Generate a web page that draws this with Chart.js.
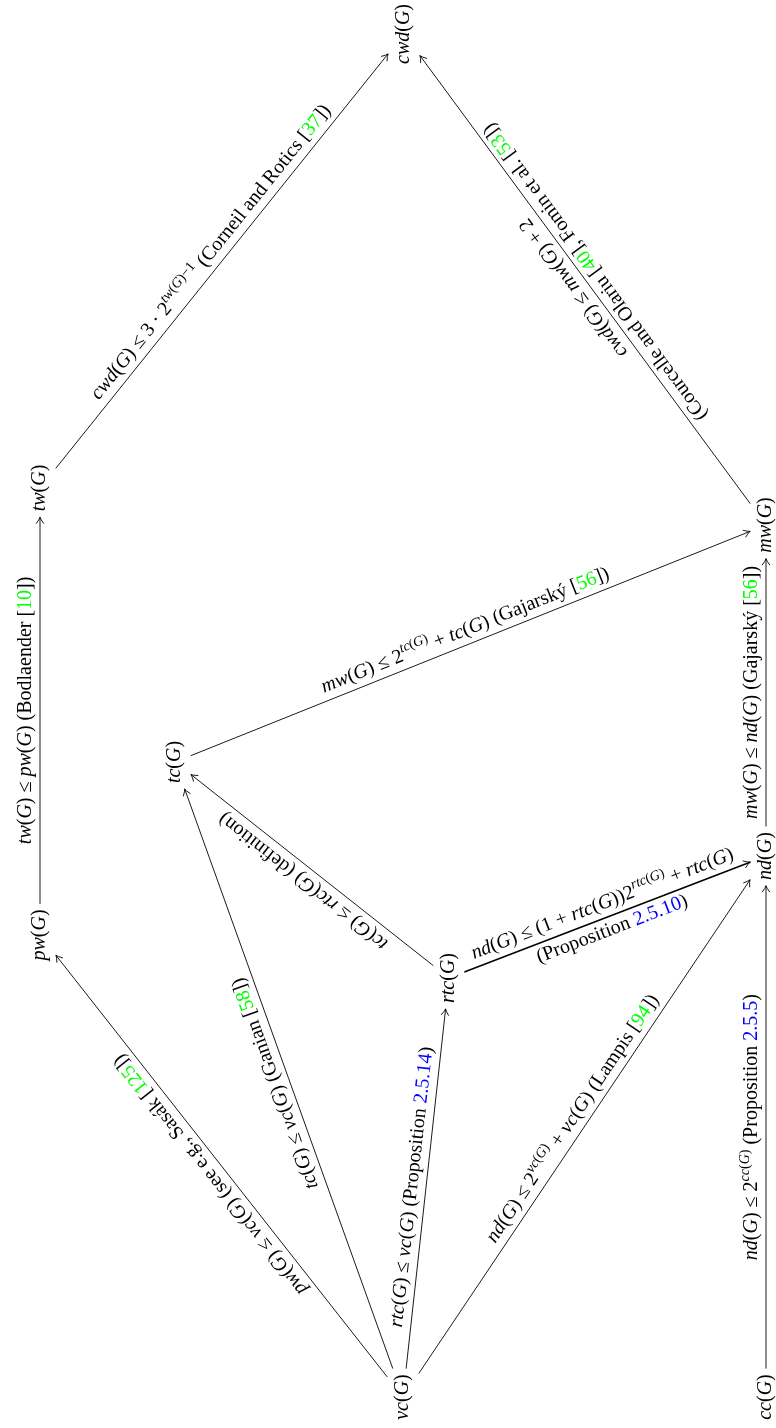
<!DOCTYPE html>
<html>
<head>
<meta charset="utf-8">
<script src="https://cdn.jsdelivr.net/npm/chart.js@4.4.1/dist/chart.umd.min.js"></script>
<style>
  html, body { margin: 0; padding: 0; background: #fff; }
</style>
</head>
<body>
<canvas id="myChart" width="776" height="1428"></canvas>
<script>
// Nodes of the diagram (positions in page units, y grows downward)
const nodeNames = ['cwd', 'tw', 'pw', 'tc', 'mw', 'nd', 'rtc', 'vc', 'cc'];
const nodeX = [404, 40, 40, 175, 766, 766, 449, 403, 766];
const nodeY = [34, 488, 935, 762, 525, 856, 978, 1397, 1397];

// Edges (from -> to) and their labels
// $..$ = math, ^{..} = superscript, \cite{..} = citation, \ref{..} = reference
const edgeFrom = ['pw', 'tw', 'mw', 'tc', 'nd', 'rtc', 'rtc', 'vc', 'vc', 'vc', 'vc', 'cc'];
const edgeTo = ['tw', 'cwd', 'cwd', 'mw', 'mw', 'tc', 'nd', 'pw', 'tc', 'rtc', 'nd', 'nd'];
const edgeAbove = [
  '$tw(G) \u2264 pw(G)$ (Bodlaender \\cite{10})',
  '$cwd(G) \u2264 3 \u00b7 2^{tw(G)\u22121}$ (Corneil and Rotics \\cite{37})',
  '$cwd(G) \u2264 mw(G) + 2$',
  '$mw(G) \u2264 2^{tc(G)} + tc(G)$ (Gajarsk\u00fd \\cite{56})',
  '$mw(G) \u2264 nd(G)$ (Gajarsk\u00fd \\cite{56})',
  '$tc(G) \u2264 rtc(G)$ (definition)',
  '$nd(G) \u2264 (1 + rtc(G))2^{rtc(G)} + rtc(G)$',
  '$pw(G) \u2264 vc(G)$ (see e.g., Sas\u00e1k \\cite{125})',
  '$tc(G) \u2264 vc(G)$ (Ganian \\cite{58})',
  '$rtc(G) \u2264 vc(G)$ (Proposition \\ref{2.5.14})',
  '$nd(G) \u2264 2^{vc(G)} + vc(G)$ (Lampis \\cite{94})',
  '$nd(G) \u2264 2^{cc(G)}$ (Proposition \\ref{2.5.5})'
];
const edgeBelow = ['', '', '(Courcelle and Olariu \\cite{40}, Fomin et al. \\cite{53})', '', '', '',
  '(Proposition \\ref{2.5.10})', '', '', '', '', ''];
const edgeBold = [false, false, false, false, false, false, true, false, false, false, false, false];

const FACE = '"Liberation Serif", "Times New Roman", serif';
const SIZE = 20;
const CITE_COLOR = '#00ff00';
const REF_COLOR = '#0000ff';

// Turns a label string into styled runs
const parseLabel = (s) => {
  const runs = [];
  const stack = [];
  let math = false;
  const push = (ch, opts) => {
    const last = runs[runs.length - 1];
    if (last && last.italic === opts.italic && last.sup === opts.sup && last.color === opts.color) {
      last.text += ch;
    } else {
      runs.push({ text: ch, ...opts });
    }
  };
  const style = () => ({
    sup: stack.includes('sup'),
    color: stack.includes('cite') ? CITE_COLOR : (stack.includes('ref') ? REF_COLOR : '#000')
  });
  let i = 0;
  while (i < s.length) {
    const ch = s[i];
    if (ch === '$') { math = !math; i++; continue; }
    if (ch === '^' && s[i + 1] === '{') { stack.push('sup'); i += 2; continue; }
    if (s.startsWith('\\cite{', i)) {
      push('[', { italic: false, sup: false, color: '#000' });
      stack.push('cite'); i += 6; continue;
    }
    if (s.startsWith('\\ref{', i)) { stack.push('ref'); i += 5; continue; }
    if (ch === '}') {
      const top = stack.pop();
      if (top === 'cite') push(']', { italic: false, sup: false, color: '#000' });
      i++; continue;
    }
    const st = style();
    push(ch, { italic: math && /[A-Za-z]/.test(ch), sup: st.sup, color: st.color });
    i++;
  }
  return runs;
};

const runFont = (r) => (r.italic ? 'italic ' : '') + (r.sup ? SIZE * 0.7 : SIZE) + 'px ' + FACE;

const measureRuns = (ctx, runs) => {
  let w = 0;
  runs.forEach(r => { ctx.font = runFont(r); r.w = ctx.measureText(r.text).width; w += r.w; });
  return w;
};

// draws runs centred horizontally on 0, baseline at y
const drawRuns = (ctx, runs, y) => {
  const total = measureRuns(ctx, runs);
  let x = -total / 2;
  runs.forEach(r => {
    ctx.font = runFont(r);
    ctx.fillStyle = r.color;
    ctx.fillText(r.text, x, y - (r.sup ? SIZE * 0.42 : 0));
    x += r.w;
  });
};

const arrowHead = (ctx, x, y, ux, uy) => {
  const px = -uy, py = ux;
  ctx.beginPath();
  ctx.moveTo(x - 6 * ux + 3.6 * px, y - 6 * uy + 3.6 * py);
  ctx.quadraticCurveTo(x - 2 * ux + 0.6 * px, y - 2 * uy + 0.6 * py, x, y);
  ctx.quadraticCurveTo(x - 2 * ux - 0.6 * px, y - 2 * uy - 0.6 * py, x - 6 * ux - 3.6 * px, y - 6 * uy - 3.6 * py);
  ctx.stroke();
};

const diagramPlugin = {
  id: 'diagram',
  afterDatasetsDraw(chart) {
    const ctx = chart.ctx;
    const xs = chart.scales.x, ys = chart.scales.y;
    const nodes = {};
    nodeNames.forEach((n, i) => {
      const runs = parseLabel('$' + n + '(G)$');
      const w = measureRuns(ctx, runs);
      nodes[n] = {
        x: xs.getPixelForValue(nodeX[i]),
        y: ys.getPixelForValue(nodeY[i]),
        runs: runs,
        hx: SIZE * 0.5 + 6,  // text is rotated: across the text is horizontal
        hy: w / 2 + 6
      };
    });

    const clip = (n, ux, uy) => {
      const tx = Math.abs(ux) > 1e-6 ? n.hx / Math.abs(ux) : Infinity;
      const ty = Math.abs(uy) > 1e-6 ? n.hy / Math.abs(uy) : Infinity;
      const t = Math.min(tx, ty);
      return [n.x + ux * t, n.y + uy * t];
    };

    ctx.save();
    ctx.strokeStyle = '#000';
    ctx.lineCap = 'round';
    edgeFrom.forEach((f, i) => {
      const a = nodes[f], b = nodes[edgeTo[i]];
      const len = Math.hypot(b.x - a.x, b.y - a.y);
      const ux = (b.x - a.x) / len, uy = (b.y - a.y) / len;
      const [x1, y1] = clip(a, ux, uy);
      const [x2, y2] = clip(b, -ux, -uy);
      ctx.lineWidth = edgeBold[i] ? 1.6 : 0.9;
      ctx.beginPath();
      ctx.moveTo(x1, y1);
      ctx.lineTo(x2, y2);
      ctx.stroke();
      ctx.lineWidth = 0.9;
      arrowHead(ctx, x2, y2, ux, uy);

      // labels: sloped along the edge, above / below at midway
      const mx = (x1 + x2) / 2, my = (y1 + y2) / 2;
      ctx.save();
      ctx.translate(mx, my);
      ctx.rotate(Math.atan2(uy, ux));
      ctx.textBaseline = 'alphabetic';
      drawRuns(ctx, parseLabel(edgeAbove[i]), -(4 + SIZE * 0.24));
      if (edgeBelow[i]) drawRuns(ctx, parseLabel(edgeBelow[i]), 4 + SIZE * 0.72);
      ctx.restore();
    });

    // node labels, read bottom to top
    nodeNames.forEach(n => {
      const nd = nodes[n];
      ctx.save();
      ctx.translate(nd.x, nd.y);
      ctx.rotate(-Math.PI / 2);
      ctx.textBaseline = 'alphabetic';
      drawRuns(ctx, nd.runs, SIZE * 0.24);
      ctx.restore();
    });
    ctx.restore();
  }
};

const config = {
  type: 'scatter',
  data: {
    datasets: [{
      label: 'nodes',
      data: nodeNames.map((n, i) => ({ x: nodeX[i], y: nodeY[i] })),
      pointRadius: 0,
      showLine: false
    }]
  },
  options: {
    responsive: false,
    animation: false,
    layout: { padding: 0 },
    plugins: { legend: { display: false }, tooltip: { enabled: false } },
    scales: {
      x: { type: 'linear', min: 0, max: 776, display: false },
      y: { type: 'linear', min: 0, max: 1428, reverse: true, display: false }
    }
  },
  plugins: [diagramPlugin]
};

const chart = new Chart(document.getElementById('myChart'), config);
</script>
</body>
</html>
